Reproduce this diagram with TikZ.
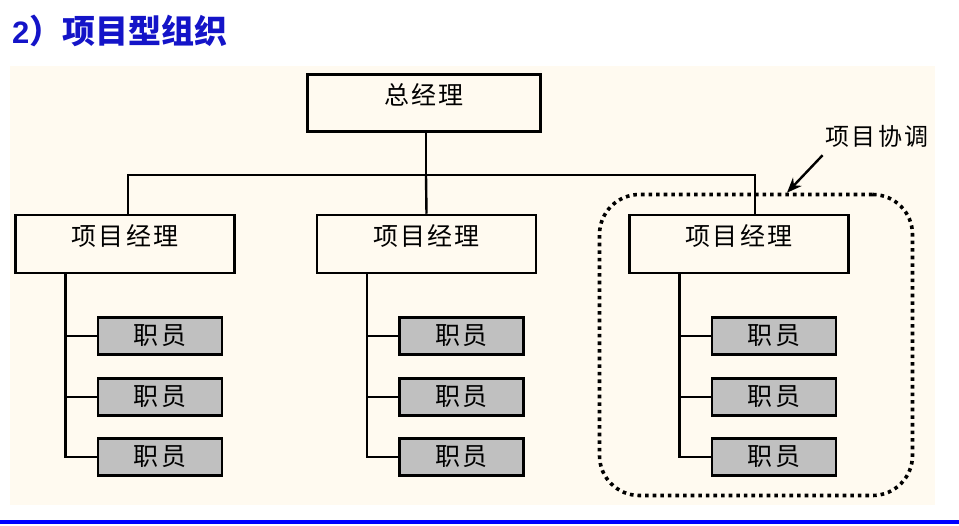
\documentclass[tikz,border=0pt]{standalone}
\usepackage{fontspec}
\setsansfont{Liberation Sans}
\newfontfamily\cjk[LetterSpace=9]{Noto Sans CJK SC}
\newfontfamily\cjktitle{Noto Sans CJK SC}
\usetikzlibrary{arrows.meta}
\definecolor{paper}{HTML}{FFFAF0}
\definecolor{staffgray}{HTML}{C0C0C0}
\definecolor{titleblue}{HTML}{1414C8}
\definecolor{rule}{HTML}{0000FF}

\begin{document}
\begin{tikzpicture}[x=1pt,y=-1pt,
  mgr/.style={rectangle,draw,line width=2.5pt,minimum width=219pt,minimum height=58pt,
    text depth=17pt,font=\cjk\fontsize{25}{25}\selectfont},
  staffbox/.style={rectangle,draw,line width=2.6pt,fill=staffgray,minimum width=124pt,
    minimum height=37pt,font=\cjk\fontsize{25}{25}\selectfont},
  link/.style={line width=2.4pt}]

\useasboundingbox (0,0) rectangle (959,526);
\fill[paper] (10,66) rectangle (935,505);
\fill[rule] (0,520) rectangle (959,524);

\node[anchor=west,text=titleblue,inner sep=0pt] (title) at (12,31)
  {\fontsize{31}{31}\selectfont\sffamily\bfseries 2\cjktitle\fontsize{33}{33}\selectfont ）项目型组织};

% general manager
\node[mgr,minimum width=233pt,minimum height=57pt] (gm) at (424,103) {总经理};
\coordinate (bus) at (426,175);
\draw[link] (gm.south -| bus) -- (bus);

% project managers with staff
\foreach \c/\px in {1/125,2/426.5,3/739}{
  \node[mgr] (pm\c) at (\px,244) {项目经理};
  \foreach \r/\sy in {1/336,2/397,3/457}{
    \node[staffbox] (st\c\r) at (\px+35,\sy) {职员};
    \draw[link] ([xshift=-59.5pt]pm\c.south) |- (st\c\r.west);
  }
}
\draw[link] (bus) -| ([xshift=3pt]pm1.north);
\draw[link] (bus) -- (pm2.north);
\draw[link] (bus) -| ([xshift=16pt]pm3.north);

% coordination
\node[draw,line width=3.6pt,dash pattern=on 3.6pt off 4pt,rounded corners=40pt,
  minimum width=313pt,minimum height=301pt] (team) at (756,345) {};
\node[inner sep=0pt,font=\cjk\fontsize{24}{24}\selectfont] (coord) at (877,136) {项目协调};
\coordinate (tail) at ([shift={(-3,8)}]coord.south west);
\draw[line width=2.4pt,-{Stealth[length=15pt,width=12pt]}] (tail) -- ([xshift=31pt]team.north);

\end{tikzpicture}
\end{document}
